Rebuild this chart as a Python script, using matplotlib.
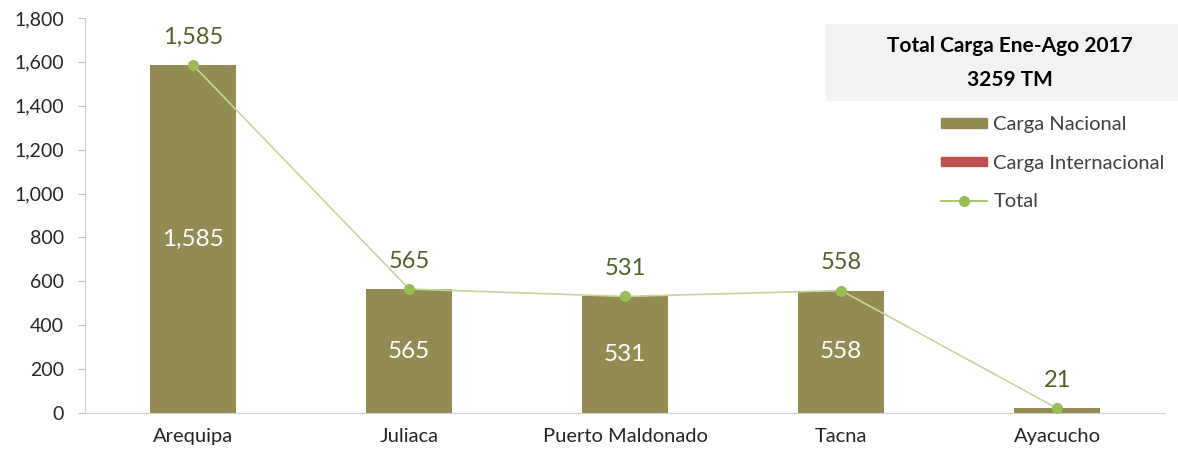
import numpy as np
import matplotlib.pyplot as plt
from matplotlib.patches import Rectangle
from matplotlib.lines import Line2D
from matplotlib.ticker import FuncFormatter

plt.rcParams['font.family'] = ['Lato', 'DejaVu Sans']

aeropuertos = ['Arequipa', 'Juliaca', 'Puerto Maldonado', 'Tacna', 'Ayacucho']
carga_nacional = [1585, 565, 531, 558, 21]
carga_internacional = [0, 0, 0, 0, 0]
total = [1585, 565, 531, 558, 21]

c_nac = '#948A54'
c_int = '#C0504D'
c_tot = '#9BBB59'
c_lbl = '#4F6228'

fig = plt.figure(figsize=(11.78, 4.53), dpi=100)
ax = fig.add_axes([0.0722, 0.0883, 0.917, 0.872])

x = np.arange(len(aeropuertos))
ax.bar(x, carga_nacional, width=0.4, color=c_nac, zorder=2)
ax.bar(x, carga_internacional, width=0.4, bottom=carga_nacional, color=c_int, zorder=2)
ax.plot(x, total, color='#C3D69B', lw=1.2, zorder=3)
ax.plot(x, total, 'o', color=c_tot, ms=7, zorder=4)

for xi, v in zip(x, carga_nacional):
    if v > 100:
        ax.text(xi, v / 2, f'{v:,}', color='white', ha='center', va='center', fontsize=17.5, zorder=5)
for xi, v in zip(x, total):
    ax.annotate(f'{v:,}', (xi, v), xytext=(0, 20), textcoords='offset points',
                ha='center', va='center', color=c_lbl, fontsize=17, zorder=5)

ax.set_xlim(-0.5, 4.5)
ax.set_ylim(0, 1800)
ax.set_yticks(np.arange(0, 1801, 200))
ax.yaxis.set_major_formatter(FuncFormatter(lambda v, p: f'{int(v):,}'))
ax.set_xticks(x)
ax.set_xticklabels(aeropuertos, fontsize=14.5, color='#262626')
ax.tick_params(axis='x', length=0, pad=11)
ax.tick_params(axis='y', length=5, labelsize=14, pad=10, colors='#BFBFBF', labelcolor='#262626')
for s in ['top', 'right']:
    ax.spines[s].set_visible(False)
ax.spines['left'].set_color('#D0D0D0')
ax.spines['bottom'].set_color('#D0D0D0')

# caja de titulo
fig.patches.append(Rectangle((826 / 1178, 1 - 100 / 453), 352 / 1178, 76 / 453,
                             transform=fig.transFigure, color='#F2F2F2', zorder=0))
fig.text(1010 / 1178, 1 - 46 / 453, 'Total Carga Ene-Ago 2017', ha='center', va='center',
         fontsize=15, fontweight='bold', color='black')
fig.text(1010 / 1178, 1 - 80 / 453, '3259 TM', ha='center', va='center',
         fontsize=15, fontweight='bold', color='black')

handles = [Rectangle((0, 0), 1, 1, color=c_nac),
           Rectangle((0, 0), 1, 1, color=c_int),
           Line2D([0], [0], color='#9BBB59', lw=1.2, marker='o', ms=7)]
leg = fig.legend(handles, ['Carga Nacional', 'Carga Internacional', 'Total'],
                 loc='upper left', bbox_to_anchor=(933 / 1178, 1 - 108 / 453),
                 frameon=False, fontsize=14.5, handlelength=2.3, handleheight=0.35,
                 labelspacing=1.07, handletextpad=0.3, borderaxespad=0)
for t in leg.get_texts():
    t.set_color('#404040')

fig.savefig('out.png', dpi=100)
